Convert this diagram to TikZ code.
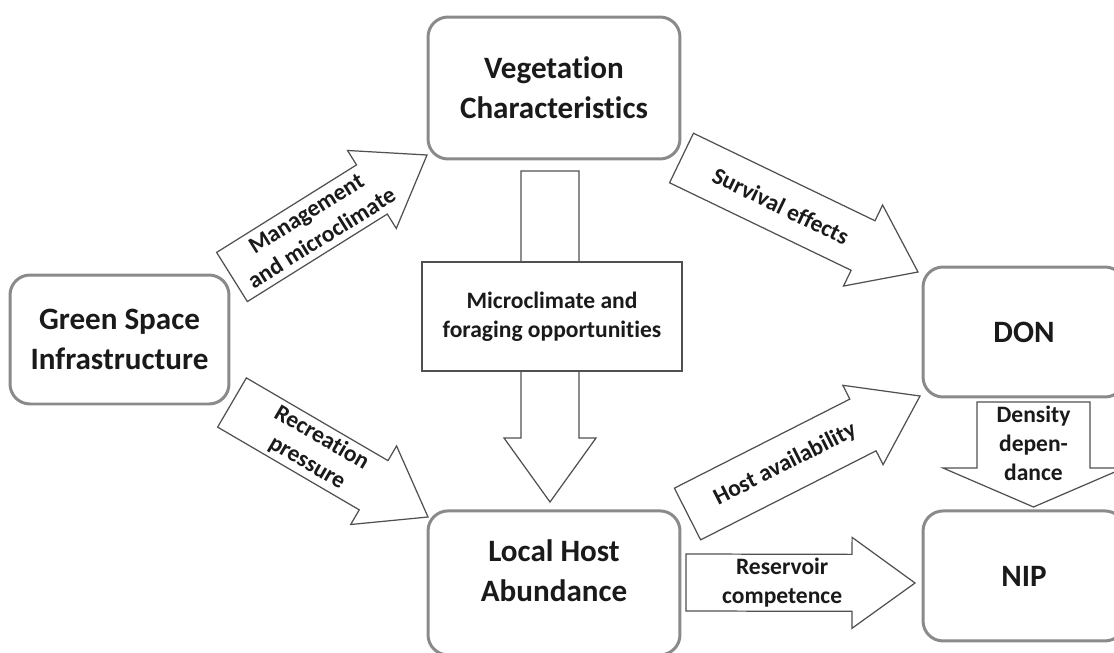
\documentclass[tikz,border=0pt]{standalone}
\usepackage{fontspec}
\setmainfont{Carlito}[Ligatures=NoCommon]
\usepackage{tikz}
\usetikzlibrary{calc,positioning}
\definecolor{boxgray}{HTML}{8A8A8A}
\definecolor{linegray}{HTML}{505050}
\definecolor{inkblack}{HTML}{1A1A1A}

% block arrow: tail, tip, half shaft, half head, head length
\newcommand{\fatarrow}[5]{%
  \draw[fatline] let \p1=($(#2)-(#1)$), \n1={atan2(\y1,\x1)}, \n2={veclen(\x1,\y1)} in
    ($(#1)+(\n1+90:#3)$) -- ++(\n1:\n2-#5) -- ++(\n1+90:#4-#3) -- (#2)
    -- ($(#1)+(\n1:\n2-#5)+(\n1-90:#4)$) -- ++(\n1+90:#4-#3)
    -- ($(#1)+(\n1-90:#3)$) -- cycle;}

\begin{document}
\begin{tikzpicture}[x=0.02cm, y=-0.02cm,
  bigtext/.style={align=center, text=inkblack, font=\fontsize{17.7}{22.8}\selectfont\bfseries},
  bigbox/.style={bigtext, draw=boxgray, line width=1.7pt, rounded corners=0.4cm, fill=white},
  fatline/.style={draw=linegray, line width=0.7pt, fill=white, line join=miter},
  arrowtext/.style={align=center, text=inkblack, inner sep=0pt, font=\fontsize{13.4}{16.5}\selectfont\bfseries},
  midbox/.style={arrowtext, draw=linegray, line width=0.8pt, fill=white}
]
\useasboundingbox (0,0) rectangle (1114,652);

% boxes
\node[bigbox, minimum width=5.04cm, minimum height=2.84cm] (veg) at (554,88) {Vegetation\\Characteristics};
\node[bigbox, minimum width=4.38cm, minimum height=2.58cm] (gsi) at (119.5,339.5) {Green Space\\Infrastructure};
\node[bigbox, minimum width=5.04cm, minimum height=2.88cm, below=6.98cm of veg] (lha) {};
\node[bigtext] (lhatext) at ([yshift=0.24cm]lha.center) {Local Host\\Abundance};
\node[bigbox, minimum width=4.04cm, minimum height=2.6cm] (don) at (1024,332) {DON};
\node[bigbox, minimum width=4.04cm, minimum height=2.6cm, below=2.22cm of don] (nip) {NIP};

% arrow ends
\coordinate (mgmtS) at (232,277);   \coordinate (mgmtE) at (427,155);
\coordinate (recS) at (232,402.5);  \coordinate (recE) at (428,517);
\coordinate (survS) at (681.5,158); \coordinate (survE) at (918,272);
\coordinate (hostS) at (687.5,514); \coordinate (hostE) at (920,396);
\coordinate (resS) at (686,582.5);  \coordinate (resE) at (915,583);
\coordinate (microS) at (550,171);  \coordinate (microE) at (550,502);
\coordinate (densS) at (1033.5,402); \coordinate (densE) at (1033.5,507);

\fatarrow{mgmtS}{mgmtE}{0.58cm}{0.92cm}{1.3cm}
\path (mgmtS) -- (mgmtE) node[arrowtext, sloped, pos=0.42] (mgmtlbl) {Management\\and microclimate};

\fatarrow{recS}{recE}{0.57cm}{0.91cm}{1.26cm}
\path (recS) -- (recE) node[arrowtext, sloped, pos=0.42] (reclbl) {Recreation\\pressure};

\fatarrow{survS}{survE}{0.55cm}{0.9cm}{1.22cm}
\path (survS) -- (survE) node[arrowtext, sloped, pos=0.42] (survlbl) {Survival effects};

\fatarrow{hostS}{hostE}{0.58cm}{0.89cm}{1.28cm}
\path (hostS) -- (hostE) node[arrowtext, sloped, pos=0.42] (hostlbl) {Host availability};

\fatarrow{resS}{resE}{0.57cm}{0.91cm}{1.26cm}
\path (resS) -- (resE) node[arrowtext, pos=0.42] (reslbl) {Reservoir\\competence};

\fatarrow{microS}{microE}{0.58cm}{0.92cm}{1.28cm}
\node[midbox, minimum width=5.2cm, minimum height=2.18cm] (microbox) at (552,316.5) {Microclimate and\\foraging opportunities};

\fatarrow{densS}{densE}{1.13cm}{1.81cm}{0.78cm}
\node[arrowtext] (denslbl) at (1033.5,443.5) {Density\\depen-\\dance};
\end{tikzpicture}
\end{document}
